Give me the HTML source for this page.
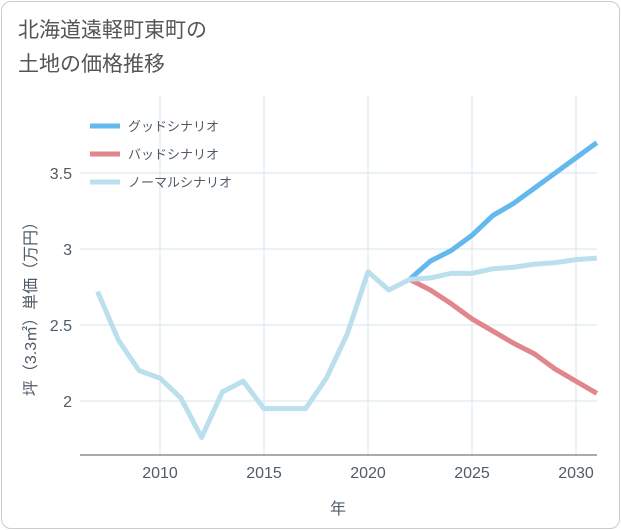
<!DOCTYPE html>
<html><head><meta charset="utf-8"><style>
body{margin:0;background:#fff;font-family:"Liberation Sans","Noto Sans CJK JP",sans-serif;}
#frame{position:absolute;left:1px;top:1px;width:617px;height:526px;border:1px solid #ccc;border-radius:10px;background:#fff;}
#title{position:absolute;left:18px;top:14px;font-size:21px;line-height:34px;color:#555;}
</style></head><body>
<div id="frame"></div>
<div id="title">北海道遠軽町東町の<br>土地の価格推移</div>
<svg id="chart" width="621" height="530" style="position:absolute;left:0;top:0"></svg>
<script>
const years=[2007,2008,2009,2010,2011,2012,2013,2014,2015,2016,2017,2018,2019,2020,2021,2022,2023,2024,2025,2026,2027,2028,2029,2030,2031];
const normal=[2.72,2.40,2.20,2.15,2.02,1.76,2.06,2.13,1.95,1.95,1.95,2.15,2.44,2.85,2.73,2.80,2.81,2.84,2.84,2.87,2.88,2.90,2.91,2.93,2.94];
const fYears=[2022,2023,2024,2025,2026,2027,2028,2029,2030,2031];
const good=[2.80,2.92,2.99,3.09,3.22,3.30,3.40,3.50,3.60,3.70];
const bad=[2.80,2.73,2.64,2.54,2.46,2.38,2.31,2.21,2.13,2.05];
const xTicks=[2010,2015,2020,2025,2030];
const yTicks=[2,2.5,3,3.5];
const yLabels=["2","2.5","3","3.5"];
const L=80,R=597,T=95,B=455;
const x=v=>160+(v-2010)*20.8;
const y=v=>401-(v-2)*152;
const svg=document.getElementById('chart');const NS='http://www.w3.org/2000/svg';
function mk(t,a,p){const e=document.createElementNS(NS,t);for(const k in a)e.setAttribute(k,a[k]);(p||svg).appendChild(e);return e;}
const grid=mk('g',{});


xTicks.forEach(v=>{const l=mk('line',{x1:x(v),x2:x(v),y1:T,y2:B,stroke:'#d5e6f0'},grid);


const t=mk('text',{x:x(v),y:478,'text-anchor':'middle','font-size':16,fill:'#4f5b66'});t.textContent=v;

});
yTicks.forEach((v,i)=>{const l=mk('line',{x1:L,x2:R,y1:y(v),y2:y(v),stroke:'#d5e6f0'},grid);


const t=mk('text',{x:72,y:y(v)+6,'text-anchor':'end','font-size':16,fill:'#4f5b66'});t.textContent=yLabels[i];

});
const ax=mk('line',{x1:L,x2:R,y1:B,y2:B,stroke:'#555'});


const xt=mk('text',{x:338,y:514,'text-anchor':'middle','font-size':16,fill:'#4f5b66'});xt.textContent='年';


const yt=mk('text',{x:0,y:0,'text-anchor':'middle','font-size':16,fill:'#4f5b66',transform:'translate(36,305) rotate(-90)'});yt.textContent='坪（3.3㎡）単価（万円）';


function line(xs,vs,c,n){const p=mk('polyline',{points:xs.map((v,i)=>x(v)+','+y(vs[i])).join(' '),fill:'none',stroke:c,'stroke-width':5,'stroke-linejoin':'round'});

}
line(fYears,bad,'#e0868c','bad-scenario-line');
line(fYears,good,'#63b8ee','good-scenario-line');
line(years,normal,'#bcdfed','normal-scenario-line');
[['グッドシナリオ','#63b8ee'],['バッドシナリオ','#e0868c'],['ノーマルシナリオ','#bcdfed']].forEach((d,i)=>{
const g=mk('g',{});


mk('line',{x1:90,x2:120,y1:126+i*28,y2:126+i*28,stroke:d[1],'stroke-width':5},g);
const t=mk('text',{x:128,y:131+i*28,'font-size':13,fill:'#4f5b66'},g);t.textContent=d[0];});
</script>
</body></html>
